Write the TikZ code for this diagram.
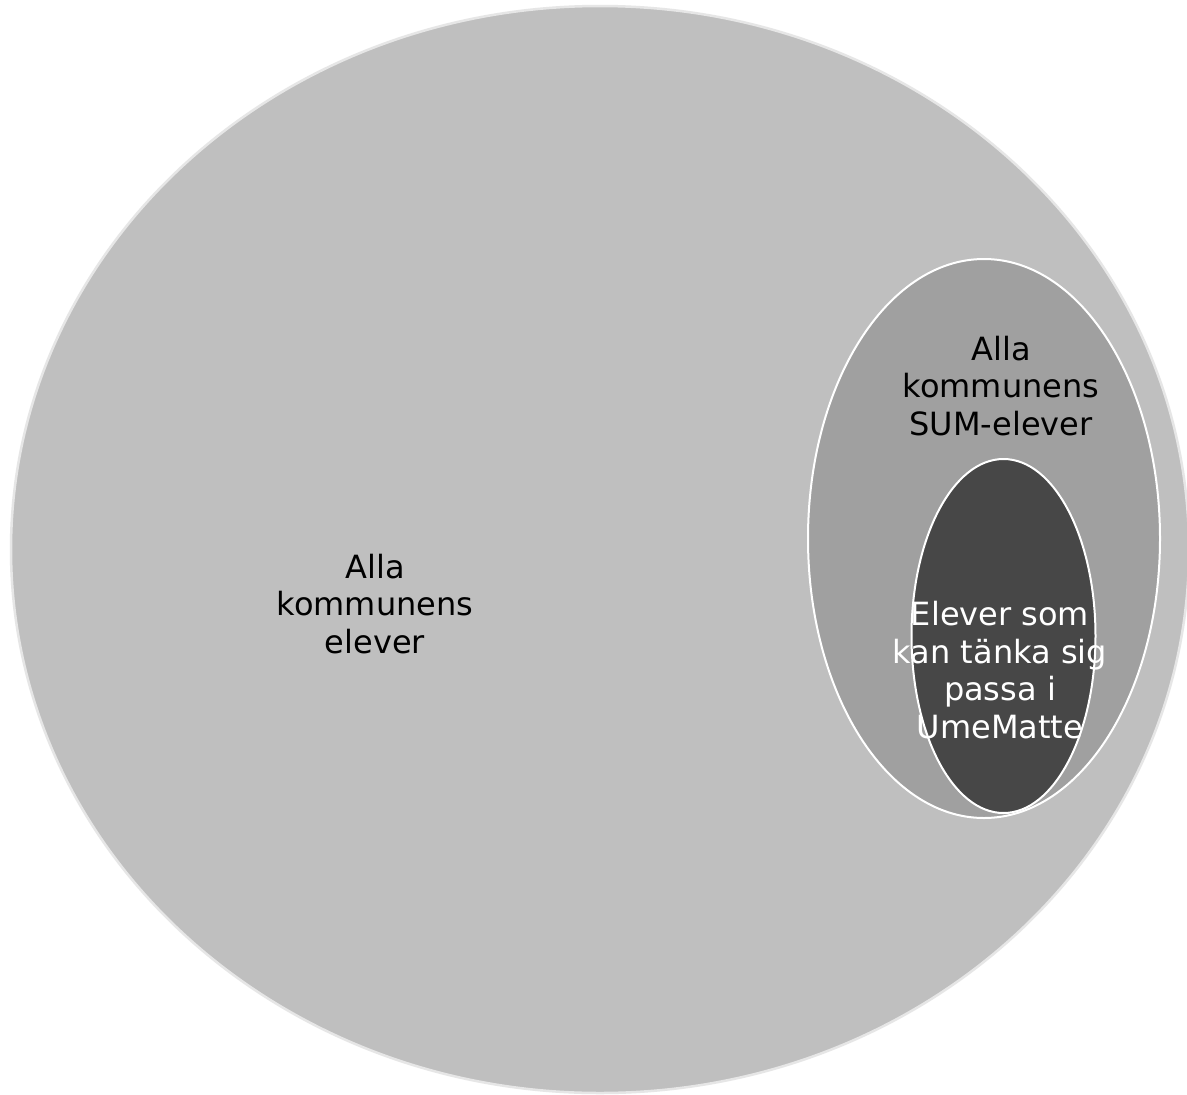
\documentclass[tikz,border=0pt]{standalone}
\usepackage{fontspec}
\setmainfont{DejaVu Sans}
\usetikzlibrary{shapes.geometric}
\definecolor{bigfill}{HTML}{BFBFBF}
\definecolor{midfill}{HTML}{A0A0A0}
\definecolor{inFill}{HTML}{474747}
\definecolor{bigline}{HTML}{E6E6E6}
\tikzset{
  setlabel/.style={align=center, inner sep=0pt, anchor=base, font=\fontsize{32bp}{37.5bp}\selectfont},
}
\begin{document}
\begin{tikzpicture}[x=1bp,y=-1bp]
\useasboundingbox (0,0) rectangle (1187,1095);
\clip (0,0) rectangle (1187,1095);
\fill[white] (0,0) rectangle (1187,1095);
\draw[fill=bigfill, draw=bigline, line width=2.5bp] (600,549.5) ellipse [x radius=589, y radius=543.5];
\draw[fill=midfill, draw=white, line width=2bp] (984,538.5) ellipse [x radius=176, y radius=279.5];
\draw[fill=inFill, draw=white, line width=2bp] (1003.5,636) ellipse [x radius=92, y radius=177];
\node[setlabel, text=black] (big) at (375,653) {Alla\\kommunens\\elever};
\node[setlabel, text=black] (mid) at (1001,435) {Alla\\kommunens\\SUM-elever};
\node[setlabel, text=white] (inner) at (1000,738) {Elever som\\kan tänka sig\\passa i\\UmeMatte};
\end{tikzpicture}
\end{document}
